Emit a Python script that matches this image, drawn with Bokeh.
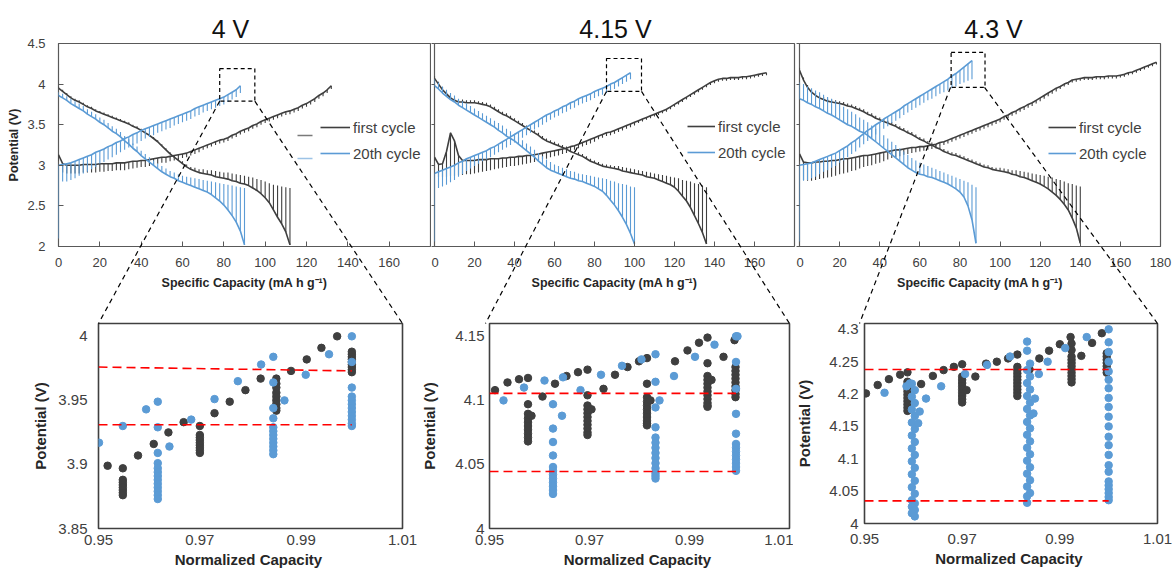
from bokeh.plotting import figure
from bokeh.layouts import row, column
from bokeh.models import (FixedTicker, CustomJSTickFormatter, BoxAnnotation, Arrow,
                          Label, Legend, LegendItem, GridBox)
from bokeh.embed import file_html
from bokeh.resources import INLINE

# ---------------------------------------------------------------- data
# capacity of each GITT step (mA h g-1)
Q = [0, 2, 4, 6, 8, 10, 12, 14, 16, 18, 20, 22, 24, 26, 28, 30, 32, 34, 36, 38,
     40, 42, 44, 46, 48, 50, 52, 54, 56, 58, 60, 62, 64, 66, 68, 70, 72, 74, 76, 78,
     80, 82, 84, 86, 88, 90, 92, 94, 96, 98, 100, 102, 104, 106, 108, 110, 112, 114,
     116, 118, 120, 122, 124, 126, 128, 130, 132, 134, 136, 138, 140, 142, 144, 146,
     148, 150, 152, 154, 156, 158, 160, 162, 164, 166, 168, 170, 172, 174, 176, 178]

# ---- 4 V : working voltage (v) and relaxed end of each step (tip)
p1_first_dis = [3.95, 3.91, 3.87, 3.83, 3.80, 3.78, 3.75, 3.72, 3.70, 3.67,
                3.65, 3.63, 3.61, 3.59, 3.57, 3.55, 3.53, 3.51, 3.48, 3.46,
                3.43, 3.40, 3.37, 3.33, 3.29, 3.24, 3.19, 3.14, 3.10, 3.06,
                3.02, 2.98, 2.95, 2.93, 2.91, 2.90, 2.89, 2.88, 2.86, 2.85,
                2.84, 2.83, 2.81, 2.80, 2.78, 2.77, 2.75, 2.72, 2.69, 2.65,
                2.60, 2.54, 2.45, 2.36, 2.28, 2.18, 2.02]
p1_first_dis_tip = [3.97, 3.93, 3.89, 3.85, 3.82, 3.80, 3.77, 3.74, 3.72, 3.69,
                    3.67, 3.65, 3.63, 3.61, 3.59, 3.57, 3.55, 3.53, 3.50, 3.48,
                    3.45, 3.42, 3.39, 3.35, 3.31, 3.26, 3.21, 3.16, 3.12, 3.09,
                    3.05, 3.01, 2.98, 2.97, 2.95, 2.95, 2.94, 2.94, 2.93, 2.92,
                    2.91, 2.91, 2.90, 2.89, 2.88, 2.87, 2.86, 2.85, 2.83, 2.82,
                    2.80, 2.78, 2.76, 2.75, 2.74, 2.73, 2.72]
p1_first_ch = [3.13, 3.02, 3.00, 3.00, 3.00, 3.00, 3.01, 3.01, 3.01, 3.01,
               3.02, 3.02, 3.02, 3.02, 3.03, 3.03, 3.03, 3.04, 3.05, 3.05,
               3.06, 3.06, 3.07, 3.08, 3.09, 3.10, 3.10, 3.11, 3.12, 3.13,
               3.14, 3.15, 3.17, 3.19, 3.21, 3.23, 3.25, 3.27, 3.29, 3.31,
               3.32, 3.34, 3.37, 3.39, 3.42, 3.44, 3.46, 3.49, 3.51, 3.54,
               3.56, 3.58, 3.60, 3.62, 3.64, 3.66, 3.67, 3.69, 3.71, 3.74,
               3.76, 3.79, 3.82, 3.86, 3.89, 3.93, 3.98]
p1_first_ch_tip = [3.05, 2.91, 2.90, 2.90, 2.90, 2.90, 2.91, 2.91, 2.91, 2.91,
                   2.92, 2.92, 2.93, 2.93, 2.94, 2.94, 2.94, 2.95, 2.96, 2.97,
                   2.98, 2.98, 2.99, 3.00, 3.02, 3.03, 3.03, 3.05, 3.06, 3.07,
                   3.09, 3.10, 3.12, 3.14, 3.16, 3.19, 3.21, 3.23, 3.25, 3.27,
                   3.28, 3.30, 3.33, 3.35, 3.38, 3.40, 3.42, 3.45, 3.47, 3.50,
                   3.52, 3.54, 3.56, 3.58, 3.60, 3.62, 3.63, 3.65, 3.67, 3.70,
                   3.72, 3.75, 3.78, 3.82, 3.85, 3.89, 3.94]
p1_20th_dis = [3.86, 3.83, 3.80, 3.76, 3.73, 3.70, 3.67, 3.63, 3.60, 3.57,
               3.53, 3.50, 3.46, 3.42, 3.39, 3.35, 3.30, 3.26, 3.21, 3.17,
               3.12, 3.08, 3.04, 3.00, 2.96, 2.92, 2.89, 2.86, 2.84, 2.81,
               2.79, 2.77, 2.75, 2.73, 2.71, 2.69, 2.67, 2.64, 2.60, 2.56,
               2.51, 2.45, 2.38, 2.30, 2.19, 2.02]
p1_20th_dis_tip = [3.90, 3.88, 3.85, 3.82, 3.79, 3.76, 3.73, 3.69, 3.66, 3.63,
                   3.59, 3.56, 3.52, 3.48, 3.45, 3.41, 3.36, 3.32, 3.27, 3.23,
                   3.18, 3.14, 3.10, 3.06, 3.02, 2.99, 2.96, 2.93, 2.91, 2.89,
                   2.87, 2.86, 2.85, 2.84, 2.83, 2.82, 2.81, 2.80, 2.79, 2.78,
                   2.77, 2.76, 2.75, 2.74, 2.73, 2.72]
p1_20th_ch = [3.00, 3.01, 3.02, 3.03, 3.05, 3.07, 3.09, 3.11, 3.13, 3.16,
              3.18, 3.20, 3.23, 3.25, 3.28, 3.30, 3.33, 3.35, 3.38, 3.40,
              3.43, 3.45, 3.47, 3.49, 3.51, 3.53, 3.55, 3.57, 3.59, 3.61,
              3.63, 3.65, 3.67, 3.70, 3.72, 3.74, 3.76, 3.78, 3.80, 3.82,
              3.84, 3.87, 3.90, 3.93, 3.98]
p1_20th_ch_tip = [2.10, 2.80, 2.80, 2.82, 2.84, 2.87, 2.90, 2.92, 2.95, 2.98,
                  3.02, 3.04, 3.07, 3.10, 3.13, 3.16, 3.19, 3.22, 3.25, 3.27,
                  3.30, 3.33, 3.35, 3.37, 3.40, 3.42, 3.44, 3.46, 3.49, 3.51,
                  3.53, 3.55, 3.57, 3.60, 3.62, 3.65, 3.67, 3.69, 3.71, 3.73,
                  3.75, 3.78, 3.81, 3.84, 3.89]

# ---- 4.15 V
p2_first_dis = [4.07, 4.00, 3.93, 3.88, 3.83, 3.80, 3.78, 3.78, 3.77, 3.77,
                3.77, 3.76, 3.75, 3.74, 3.72, 3.69, 3.66, 3.63, 3.61, 3.58,
                3.55, 3.52, 3.49, 3.46, 3.43, 3.40, 3.37, 3.33, 3.30, 3.28,
                3.26, 3.24, 3.22, 3.20, 3.17, 3.15, 3.13, 3.11, 3.08, 3.05,
                3.03, 3.01, 2.99, 2.98, 2.97, 2.96, 2.95, 2.93, 2.92, 2.91,
                2.90, 2.89, 2.88, 2.86, 2.85, 2.84, 2.82, 2.80, 2.78, 2.76,
                2.73, 2.68, 2.62, 2.56, 2.48, 2.38, 2.28, 2.17, 2.03]
p2_first_dis_tip = [4.10, 4.03, 3.96, 3.91, 3.86, 3.83, 3.81, 3.81, 3.80, 3.80,
                    3.80, 3.79, 3.78, 3.77, 3.75, 3.72, 3.69, 3.66, 3.64, 3.61,
                    3.58, 3.55, 3.52, 3.49, 3.46, 3.43, 3.40, 3.36, 3.33, 3.31,
                    3.29, 3.27, 3.25, 3.23, 3.20, 3.18, 3.16, 3.14, 3.11, 3.08,
                    3.06, 3.04, 3.02, 3.01, 3.00, 2.99, 2.99, 2.98, 2.97, 2.96,
                    2.95, 2.94, 2.93, 2.92, 2.91, 2.90, 2.89, 2.88, 2.87, 2.86,
                    2.85, 2.84, 2.82, 2.81, 2.80, 2.78, 2.77, 2.75, 2.73]
p2_first_ch = [3.10, 3.01, 3.02, 3.17, 3.40, 3.30, 3.12, 3.06, 3.06, 3.06,
               3.06, 3.07, 3.07, 3.07, 3.08, 3.08, 3.08, 3.09, 3.09, 3.10,
               3.10, 3.11, 3.11, 3.12, 3.12, 3.13, 3.14, 3.15, 3.16, 3.17,
               3.18, 3.19, 3.20, 3.21, 3.23, 3.24, 3.26, 3.28, 3.30, 3.32,
               3.34, 3.36, 3.38, 3.40, 3.41, 3.43, 3.45, 3.47, 3.49, 3.51,
               3.53, 3.55, 3.57, 3.59, 3.61, 3.63, 3.65, 3.67, 3.69, 3.72,
               3.75, 3.78, 3.81, 3.84, 3.87, 3.90, 3.93, 3.96, 3.99, 4.02,
               4.04, 4.06, 4.07, 4.07, 4.08, 4.08, 4.08, 4.09, 4.09, 4.10,
               4.11, 4.12, 4.13, 4.14]
p2_first_ch_tip = [3.05, 2.86, 2.86, 2.86, 2.87, 2.87, 2.88, 2.88, 2.89, 2.89,
                   2.90, 2.91, 2.92, 2.93, 2.94, 2.95, 2.96, 2.97, 2.98, 2.99,
                   2.99, 3.00, 3.01, 3.02, 3.03, 3.04, 3.06, 3.07, 3.08, 3.10,
                   3.11, 3.12, 3.14, 3.15, 3.17, 3.19, 3.21, 3.23, 3.25, 3.27,
                   3.29, 3.32, 3.34, 3.36, 3.37, 3.39, 3.41, 3.43, 3.45, 3.47,
                   3.49, 3.52, 3.54, 3.56, 3.58, 3.60, 3.62, 3.64, 3.66, 3.69,
                   3.72, 3.75, 3.78, 3.81, 3.84, 3.87, 3.90, 3.93, 3.96, 3.99,
                   4.01, 4.03, 4.04, 4.04, 4.05, 4.05, 4.05, 4.06, 4.06, 4.07,
                   4.08, 4.09, 4.10, 4.11]
p2_20th_ch = [2.90, 2.92, 2.94, 2.96, 2.98, 3.00, 3.03, 3.05, 3.08, 3.10,
              3.12, 3.14, 3.16, 3.18, 3.21, 3.23, 3.26, 3.29, 3.32, 3.35,
              3.38, 3.41, 3.44, 3.47, 3.50, 3.53, 3.56, 3.59, 3.62, 3.64,
              3.67, 3.69, 3.72, 3.74, 3.77, 3.79, 3.82, 3.84, 3.86, 3.88,
              3.91, 3.93, 3.95, 3.97, 4.00, 4.02, 4.05, 4.08, 4.11, 4.14]
p2_20th_ch_tip = [2.05, 2.72, 2.74, 2.76, 2.79, 2.82, 2.86, 2.89, 2.93, 2.96,
                  2.99, 3.02, 3.05, 3.07, 3.10, 3.13, 3.16, 3.19, 3.22, 3.25,
                  3.28, 3.31, 3.34, 3.37, 3.40, 3.44, 3.47, 3.50, 3.53, 3.56,
                  3.59, 3.61, 3.64, 3.66, 3.69, 3.71, 3.74, 3.76, 3.78, 3.80,
                  3.83, 3.85, 3.87, 3.89, 3.92, 3.94, 3.97, 4.00, 4.03, 4.06]
p2_20th_dis = [3.98, 3.94, 3.89, 3.85, 3.81, 3.78, 3.74, 3.71, 3.68, 3.65,
               3.62, 3.59, 3.56, 3.53, 3.50, 3.47, 3.43, 3.40, 3.36, 3.33,
               3.30, 3.26, 3.22, 3.18, 3.14, 3.10, 3.05, 3.01, 2.97, 2.94,
               2.92, 2.90, 2.88, 2.86, 2.84, 2.83, 2.81, 2.80, 2.78, 2.76,
               2.74, 2.71, 2.68, 2.63, 2.57, 2.51, 2.44, 2.36, 2.27, 2.16, 2.03]
p2_20th_dis_tip = [4.06, 4.02, 3.97, 3.93, 3.89, 3.86, 3.82, 3.79, 3.76, 3.73,
                   3.70, 3.67, 3.64, 3.61, 3.58, 3.55, 3.52, 3.49, 3.45, 3.42,
                   3.39, 3.35, 3.31, 3.27, 3.23, 3.19, 3.15, 3.11, 3.07, 3.04,
                   3.01, 2.99, 2.97, 2.95, 2.93, 2.92, 2.90, 2.89, 2.88, 2.87,
                   2.86, 2.85, 2.84, 2.83, 2.81, 2.80, 2.78, 2.77, 2.76, 2.74, 2.73]

# ---- 4.3 V
p3_first_dis = [4.17, 4.05, 3.96, 3.90, 3.86, 3.83, 3.81, 3.79, 3.78, 3.77,
                3.76, 3.75, 3.73, 3.72, 3.70, 3.68, 3.66, 3.63, 3.61, 3.58,
                3.56, 3.54, 3.52, 3.50, 3.48, 3.45, 3.43, 3.40, 3.38, 3.35,
                3.32, 3.30, 3.27, 3.25, 3.22, 3.20, 3.17, 3.15, 3.13, 3.12,
                3.10, 3.08, 3.06, 3.04, 3.02, 3.00, 2.98, 2.97, 2.95, 2.94,
                2.93, 2.92, 2.91, 2.89, 2.88, 2.86, 2.85, 2.83, 2.81, 2.79,
                2.77, 2.74, 2.71, 2.67, 2.63, 2.58, 2.52, 2.45, 2.35, 2.23, 2.04]
p3_first_dis_tip = [4.20, 4.08, 3.99, 3.93, 3.89, 3.86, 3.84, 3.82, 3.81, 3.80,
                    3.79, 3.78, 3.76, 3.75, 3.73, 3.71, 3.69, 3.66, 3.64, 3.61,
                    3.59, 3.57, 3.55, 3.53, 3.51, 3.48, 3.46, 3.43, 3.41, 3.38,
                    3.35, 3.33, 3.30, 3.28, 3.25, 3.23, 3.20, 3.18, 3.16, 3.15,
                    3.13, 3.11, 3.09, 3.07, 3.05, 3.03, 3.01, 3.00, 2.98, 2.97,
                    2.97, 2.96, 2.95, 2.94, 2.94, 2.93, 2.92, 2.91, 2.90, 2.89,
                    2.88, 2.87, 2.86, 2.85, 2.83, 2.82, 2.80, 2.78, 2.77, 2.75, 2.74]
p3_first_ch = [3.14, 3.04, 3.03, 3.03, 3.04, 3.04, 3.05, 3.05, 3.06, 3.06,
               3.07, 3.08, 3.08, 3.09, 3.10, 3.11, 3.12, 3.12, 3.13, 3.14,
               3.15, 3.16, 3.17, 3.18, 3.19, 3.19, 3.20, 3.21, 3.22, 3.22,
               3.23, 3.23, 3.24, 3.25, 3.26, 3.28, 3.29, 3.31, 3.33, 3.35,
               3.37, 3.39, 3.41, 3.43, 3.45, 3.47, 3.49, 3.51, 3.53, 3.55,
               3.57, 3.60, 3.62, 3.65, 3.67, 3.70, 3.72, 3.75, 3.77, 3.80,
               3.83, 3.86, 3.89, 3.92, 3.95, 3.97, 4.00, 4.02, 4.05, 4.06,
               4.07, 4.08, 4.08, 4.08, 4.09, 4.09, 4.09, 4.10, 4.10, 4.10,
               4.11, 4.12, 4.14, 4.15, 4.17, 4.19, 4.21, 4.23, 4.25, 4.27]
p3_first_ch_tip = [3.05, 2.82, 2.81, 2.81, 2.82, 2.83, 2.84, 2.85, 2.86, 2.87,
                   2.89, 2.90, 2.91, 2.93, 2.94, 2.96, 2.98, 2.99, 3.00, 3.02,
                   3.03, 3.05, 3.07, 3.09, 3.10, 3.11, 3.13, 3.14, 3.15, 3.16,
                   3.17, 3.18, 3.19, 3.20, 3.21, 3.23, 3.25, 3.27, 3.29, 3.31,
                   3.33, 3.35, 3.37, 3.39, 3.41, 3.43, 3.45, 3.47, 3.49, 3.51,
                   3.53, 3.56, 3.58, 3.61, 3.63, 3.66, 3.68, 3.71, 3.73, 3.76,
                   3.79, 3.82, 3.85, 3.88, 3.91, 3.94, 3.97, 3.99, 4.02, 4.03,
                   4.04, 4.05, 4.05, 4.05, 4.06, 4.06, 4.06, 4.07, 4.07, 4.07,
                   4.08, 4.09, 4.11, 4.12, 4.14, 4.16, 4.18, 4.20, 4.22, 4.24]
p3_20th_ch = [3.00, 3.01, 3.02, 3.03, 3.05, 3.07, 3.09, 3.11, 3.13, 3.15,
              3.18, 3.21, 3.24, 3.28, 3.31, 3.35, 3.39, 3.43, 3.46, 3.50,
              3.53, 3.57, 3.60, 3.63, 3.66, 3.69, 3.73, 3.76, 3.79, 3.82,
              3.85, 3.88, 3.91, 3.94, 3.97, 4.00, 4.03, 4.06, 4.10, 4.13,
              4.17, 4.21, 4.25, 4.29]
p3_20th_ch_tip = [2.05, 2.81, 2.82, 2.84, 2.86, 2.89, 2.92, 2.94, 2.97, 2.99,
                  3.03, 3.06, 3.10, 3.14, 3.17, 3.22, 3.26, 3.30, 3.34, 3.38,
                  3.41, 3.45, 3.48, 3.52, 3.55, 3.58, 3.62, 3.65, 3.68, 3.71,
                  3.74, 3.77, 3.80, 3.82, 3.85, 3.88, 3.90, 3.92, 3.95, 3.97,
                  4.00, 4.02, 4.04, 4.06]
p3_20th_dis = [3.82, 3.80, 3.77, 3.75, 3.72, 3.70, 3.67, 3.64, 3.62, 3.59,
               3.56, 3.53, 3.50, 3.48, 3.45, 3.42, 3.40, 3.37, 3.33, 3.29,
               3.25, 3.21, 3.17, 3.13, 3.09, 3.05, 3.01, 2.97, 2.94, 2.91,
               2.89, 2.88, 2.86, 2.85, 2.83, 2.81, 2.79, 2.77, 2.74, 2.71,
               2.67, 2.61, 2.50, 2.33, 2.04]
p3_20th_dis_tip = [4.02, 4.00, 3.97, 3.95, 3.92, 3.90, 3.87, 3.84, 3.82, 3.79,
                   3.76, 3.72, 3.69, 3.66, 3.63, 3.59, 3.56, 3.53, 3.49, 3.45,
                   3.41, 3.37, 3.33, 3.29, 3.25, 3.21, 3.17, 3.13, 3.09, 3.06,
                   3.03, 3.01, 2.99, 2.97, 2.95, 2.93, 2.91, 2.89, 2.87, 2.85,
                   2.83, 2.81, 2.79, 2.76, 2.73]

# ---- zoomed end of charge (normalized capacity vs potential)
z4_first_x = [0.9518, 0.9548, 0.9548, 0.9548, 0.9548, 0.9548, 0.9548, 0.9548, 0.9548,
              0.9578, 0.9609, 0.9638, 0.9668, 0.9700, 0.9700, 0.9700, 0.9700, 0.9700,
              0.9700, 0.9700, 0.9700, 0.9700, 0.9729, 0.9759, 0.9790, 0.9820, 0.9851,
              0.9851, 0.9851, 0.9851, 0.9851, 0.9851, 0.9851, 0.9851, 0.9851, 0.9880,
              0.9911, 0.9940, 0.9971, 1.0000, 1.0000, 1.0000, 1.0000, 1.0000, 1.0000,
              1.0000, 1.0000, 1.0000]
z4_first_y = [3.899, 3.897, 3.888, 3.886, 3.884, 3.882, 3.880, 3.878, 3.876,
              3.907, 3.916, 3.925, 3.933, 3.930, 3.923, 3.921, 3.919, 3.917,
              3.915, 3.913, 3.911, 3.909, 3.940, 3.949, 3.958, 3.967, 3.967,
              3.963, 3.960, 3.956, 3.953, 3.950, 3.947, 3.944, 3.942, 3.973,
              3.982, 3.991, 4.000, 3.988, 3.986, 3.984, 3.982, 3.980, 3.978,
              3.976, 3.974, 3.972]
z4_20th_x = [0.9501, 0.9548, 0.9594, 0.9617, 0.9617, 0.9617, 0.9617, 0.9617, 0.9617,
             0.9617, 0.9617, 0.9617, 0.9617, 0.9617, 0.9617, 0.9617, 0.9640, 0.9683,
             0.9729, 0.9775, 0.9821, 0.9845, 0.9845, 0.9845, 0.9845, 0.9845, 0.9845,
             0.9845, 0.9845, 0.9845, 0.9845, 0.9845, 0.9845, 0.9867, 0.9909, 0.9955,
             1.0000, 1.0000, 1.0000, 1.0000, 1.0000, 1.0000, 1.0000, 1.0000, 1.0000,
             1.0000, 1.0000, 1.0000]
z4_20th_y = [3.917, 3.930, 3.943, 3.949, 3.929, 3.909, 3.901, 3.897, 3.894,
             3.891, 3.888, 3.885, 3.882, 3.879, 3.876, 3.873, 3.914, 3.935,
             3.951, 3.965, 3.978, 3.984, 3.964, 3.944, 3.936, 3.929, 3.926,
             3.923, 3.920, 3.917, 3.914, 3.911, 3.908, 3.950, 3.970, 3.986,
             4.000, 3.980, 3.960, 3.953, 3.950, 3.947, 3.944, 3.941, 3.938,
             3.935, 3.932, 3.930]
z4_red_x = [0.95, 1.0]
z4_red_hi = [3.976, 3.973]
z4_red_lo = [3.931, 3.931]

z5_first_x = [0.9511, 0.9536, 0.9559, 0.9577, 0.9577, 0.9577, 0.9577, 0.9577, 0.9577,
              0.9577, 0.9577, 0.9577, 0.9577, 0.9584, 0.9606, 0.9631, 0.9654, 0.9677,
              0.9696, 0.9696, 0.9696, 0.9696, 0.9696, 0.9696, 0.9696, 0.9696, 0.9696,
              0.9696, 0.9696, 0.9704, 0.9728, 0.9751, 0.9776, 0.9799, 0.9815, 0.9815,
              0.9815, 0.9815, 0.9815, 0.9815, 0.9815, 0.9815, 0.9815, 0.9815, 0.9815,
              0.9822, 0.9871, 0.9896, 0.9919, 0.9936, 0.9936, 0.9936, 0.9936, 0.9936,
              0.9936, 0.9936, 0.9936, 0.9936, 0.9936, 0.9936, 0.9936, 0.9944, 0.9968,
              0.9990, 0.9992, 0.9992, 0.9992, 0.9992, 0.9992, 0.9992, 0.9992, 0.9992,
              0.9992]
z5_first_y = [4.108, 4.114, 4.1165, 4.1175, 4.097, 4.0895, 4.086, 4.083, 4.080,
              4.077, 4.074, 4.071, 4.068, 4.088, 4.103, 4.113, 4.119, 4.122,
              4.124, 4.104, 4.096, 4.093, 4.090, 4.087, 4.084, 4.081, 4.078,
              4.075, 4.073, 4.093, 4.109, 4.120, 4.126, 4.1305, 4.133, 4.113,
              4.1025, 4.099, 4.096, 4.093, 4.090, 4.087, 4.084, 4.082, 4.0805,
              4.100, 4.1305, 4.139, 4.145, 4.149, 4.129, 4.119, 4.116, 4.113,
              4.110, 4.107, 4.104, 4.101, 4.098, 4.096, 4.095, 4.116, 4.134,
              4.147, 4.126, 4.123, 4.120, 4.117, 4.114, 4.111, 4.108, 4.105,
              4.1025]
z5_20th_x = [0.9528, 0.9569, 0.9610, 0.9627, 0.9627, 0.9627, 0.9627, 0.9627, 0.9627,
             0.9627, 0.9627, 0.9627, 0.9627, 0.9627, 0.9627, 0.9645, 0.9647, 0.9682,
             0.9723, 0.9765, 0.9804, 0.9832, 0.9832, 0.9832, 0.9832, 0.9832, 0.9832,
             0.9832, 0.9832, 0.9832, 0.9832, 0.9832, 0.9832, 0.9832, 0.9832, 0.9840,
             0.9869, 0.9911, 0.9950, 0.9993, 0.9996, 0.9993, 0.9993, 0.9993, 0.9993,
             0.9993, 0.9993, 0.9993, 0.9993, 0.9993, 0.9993, 0.9993, 0.9993]
z5_20th_y = [4.100, 4.110, 4.1155, 4.097, 4.078, 4.0675, 4.057, 4.048, 4.045,
             4.042, 4.039, 4.036, 4.033, 4.030, 4.027, 4.088, 4.118, 4.108,
             4.120, 4.127, 4.132, 4.136, 4.1145, 4.0945, 4.079, 4.071, 4.067,
             4.063, 4.059, 4.055, 4.051, 4.047, 4.043, 4.041, 4.039, 4.100,
             4.119, 4.134, 4.1435, 4.150, 4.150, 4.130, 4.109, 4.0895, 4.074,
             4.066, 4.063, 4.060, 4.057, 4.054, 4.051, 4.048, 4.045]
z5_red_x = [0.95, 0.9993]
z5_red_hi = [4.1055, 4.1055]
z5_red_lo = [4.0445, 4.0445]

z6_first_x = [0.9503, 0.9527, 0.9550, 0.9573, 0.9588, 0.9588, 0.9588, 0.9588, 0.9588,
              0.9588, 0.9588, 0.9588, 0.9588, 0.9588, 0.9588, 0.9616, 0.9640, 0.9662,
              0.9683, 0.9700, 0.9700, 0.9700, 0.9700, 0.9700, 0.9700, 0.9700, 0.9700,
              0.9700, 0.9700, 0.9709, 0.9727, 0.9749, 0.9771, 0.9794, 0.9813, 0.9813,
              0.9813, 0.9813, 0.9813, 0.9813, 0.9813, 0.9813, 0.9813, 0.9813, 0.9813,
              0.9838, 0.9858, 0.9878, 0.9900, 0.9922, 0.9924, 0.9924, 0.9924, 0.9924,
              0.9924, 0.9924, 0.9924, 0.9924, 0.9924, 0.9924, 0.9924, 0.9944, 0.9966,
              0.9986, 0.9996, 0.9996, 0.9996, 0.9996, 0.9996, 0.9996, 0.9996]
z6_first_y = [4.201, 4.214, 4.223, 4.230, 4.2335, 4.219, 4.214, 4.209, 4.204,
              4.199, 4.194, 4.189, 4.184, 4.179, 4.174, 4.2155, 4.228, 4.237,
              4.242, 4.246, 4.227, 4.222, 4.217, 4.212, 4.207, 4.202, 4.197,
              4.192, 4.187, 4.206, 4.227, 4.247, 4.250, 4.255, 4.261, 4.242,
              4.237, 4.232, 4.227, 4.222, 4.217, 4.212, 4.207, 4.202, 4.197,
              4.238, 4.255, 4.267, 4.277, 4.288, 4.278, 4.268, 4.258, 4.253,
              4.248, 4.243, 4.238, 4.233, 4.228, 4.223, 4.218, 4.259, 4.279,
              4.294, 4.263, 4.258, 4.253, 4.248, 4.243, 4.238, 4.233]
z6_20th_x = [0.9541, 0.9586, 0.9593, 0.9597, 0.9603, 0.9597, 0.9603, 0.9597, 0.9603,
             0.9597, 0.9603, 0.9597, 0.9603, 0.9597, 0.9603, 0.9597, 0.9603, 0.9597,
             0.9603, 0.9597, 0.9603, 0.9597, 0.9603, 0.9597, 0.9603, 0.9597, 0.9603,
             0.9610, 0.9613, 0.9626, 0.9657, 0.9706, 0.9751, 0.9798, 0.9833, 0.9833,
             0.9839, 0.9833, 0.9839, 0.9833, 0.9839, 0.9833, 0.9839, 0.9833, 0.9839,
             0.9833, 0.9839, 0.9833, 0.9839, 0.9833, 0.9839, 0.9833, 0.9839, 0.9833,
             0.9839, 0.9833, 0.9839, 0.9833, 0.9833, 0.9849, 0.9846, 0.9857, 0.9875,
             0.9911, 0.9955, 1.0000, 1.0000, 1.0000, 1.0000, 1.0000, 1.0000, 1.0000,
             1.0000, 1.0000, 1.0000, 1.0000, 1.0000, 1.0000, 1.0000, 1.0000, 1.0000,
             1.0000, 1.0000, 1.0000, 1.0000, 1.0000, 1.0000]
z6_20th_y = [4.202, 4.212, 4.2165, 4.216, 4.206, 4.196, 4.186, 4.176, 4.166,
             4.156, 4.146, 4.136, 4.126, 4.116, 4.106, 4.096, 4.086, 4.076,
             4.066, 4.056, 4.046, 4.036, 4.031, 4.026, 4.021, 4.016, 4.011,
             4.155, 4.173, 4.193, 4.212, 4.231, 4.245, 4.258, 4.281, 4.267,
             4.247, 4.237, 4.227, 4.217, 4.207, 4.197, 4.187, 4.177, 4.167,
             4.157, 4.147, 4.137, 4.127, 4.117, 4.107, 4.097, 4.087, 4.077,
             4.067, 4.057, 4.047, 4.042, 4.032, 4.193, 4.170, 4.231, 4.250,
             4.271, 4.288, 4.300, 4.280, 4.265, 4.250, 4.235, 4.222, 4.209,
             4.194, 4.180, 4.165, 4.150, 4.134, 4.121, 4.106, 4.090, 4.080,
             4.065, 4.059, 4.053, 4.047, 4.041, 4.036]
z6_red_x = [0.95, 1.0]
z6_red_hi = [4.238, 4.238]
z6_red_lo = [4.035, 4.035]

# zoom windows drawn on the overview panels (capacity, potential)
box_4V = [78, 95, 3.79, 4.19]
box_415V = [86, 103.5, 3.91, 4.315]
box_43V = [75.6, 92.5, 3.96, 4.39]

titles = ["4 V", "4.15 V", "4.3 V"]
top_xticks = [0, 20, 40, 60, 80, 100, 120, 140, 160]
top_xticks_last = [0, 20, 40, 60, 80, 100, 120, 140, 160, 180]
top_yticks = [2, 2.5, 3, 3.5, 4, 4.5]
bot_xticks = [0.95, 0.97, 0.99, 1.01]
bot_yticks_4V = [3.85, 3.9, 3.95, 4.0]
bot_yticks_415V = [4.0, 4.05, 4.1, 4.15]
bot_yticks_43V = [4.0, 4.05, 4.1, 4.15, 4.2, 4.25, 4.3]

# ---------------------------------------------------------------- style / layout
FONT = "Liberation Sans"
DARK = "#3f3f3f"
BLUE = "#5b9bd5"
RED = "#ff0000"
AXC = "#595959"
TXT = "#404040"
LAB = "#262626"
NUMFMT = CustomJSTickFormatter(code="return Number(tick.toFixed(3)).toString();")
NOFMT = CustomJSTickFormatter(code="return '';")

W, H = 1173, 577
TOP_Y, TOP_H, TOP_BT, TOP_BB = 0, 300, 43, 54
BOT_Y, BOT_H = 300, 277
TOPS = [dict(cx=0, w=431, bl=58, br=1), dict(cx=431, w=365, bl=3, br=2),
        dict(cx=796, w=377, bl=2, br=13)]
BOTS = [dict(cx=0, w=418, bl=98, br=16, bt=23, bb=49),
        dict(cx=418, w=375, bl=67, br=4, bt=23, bb=49),
        dict(cx=793, w=380, bl=66, br=16, bt=23, bb=54)]


def frame_of(cx, cy, w, h, bl, br, bt, bb):
    return (cx + bl, cx + w - br, cy + bt, cy + h - bb)


def to_page(fr, xr, yr, x, y):
    fx0, fx1, fy0, fy1 = fr
    return (fx0 + (x - xr[0]) / (xr[1] - xr[0]) * (fx1 - fx0),
            fy0 + (yr[1] - y) / (yr[1] - yr[0]) * (fy1 - fy0))


def to_data(fr, xr, yr, px, py):
    fx0, fx1, fy0, fy1 = fr
    return (xr[0] + (px - fx0) / (fx1 - fx0) * (xr[1] - xr[0]),
            yr[1] - (py - fy0) / (fy1 - fy0) * (yr[1] - yr[0]))


def no_frame_align(p):
    try:
        p.frame_align = False
    except Exception:
        pass


TOP_XR, TOP_YR = (0, 180), (2, 4.5)
BOT_XR = (0.95, 1.01)
BOT_YRS = [(3.85, 4.01), (4.0, 4.16), (4.0, 4.309)]

top_frames = [frame_of(t["cx"], TOP_Y, t["w"], TOP_H, t["bl"], t["br"], TOP_BT, TOP_BB) for t in TOPS]
bot_frames = [frame_of(b["cx"], BOT_Y, b["w"], BOT_H, b["bl"], b["br"], b["bt"], b["bb"]) for b in BOTS]

curves = [
    [(p1_first_dis, p1_first_dis_tip), (p1_first_ch, p1_first_ch_tip),
     (p1_20th_dis, p1_20th_dis_tip), (p1_20th_ch, p1_20th_ch_tip)],
    [(p2_first_dis, p2_first_dis_tip), (p2_first_ch, p2_first_ch_tip),
     (p2_20th_dis, p2_20th_dis_tip), (p2_20th_ch, p2_20th_ch_tip)],
    [(p3_first_dis, p3_first_dis_tip), (p3_first_ch, p3_first_ch_tip),
     (p3_20th_dis, p3_20th_dis_tip), (p3_20th_ch, p3_20th_ch_tip)],
]
boxes = [box_4V, box_415V, box_43V]
title_px = [(230, 28), (615, 28), (993, 28)]
legend_px = [(320, 163, 30), (687, 162, 28), (1047, 163, 28)]

top_figs = []
for i in range(3):
    t = TOPS[i]
    fr = top_frames[i]
    p = figure(width=t["w"], height=TOP_H, x_range=TOP_XR, y_range=TOP_YR,
               output_backend="svg", toolbar_location=None,
               min_border_left=t["bl"], min_border_right=t["br"],
               min_border_top=TOP_BT, min_border_bottom=TOP_BB)
    no_frame_align(p)
    p.background_fill_color = "white"
    p.border_fill_color = "white"
    p.outline_line_color = AXC
    p.outline_line_width = 1.2
    p.xgrid.visible = False
    p.ygrid.visible = False
    xa = p.xaxis[0]
    xa.ticker = FixedTicker(ticks=top_xticks_last if i == 2 else top_xticks)
    xa.formatter = NUMFMT
    xa.axis_line_color = None
    xa.major_tick_in = 5
    xa.major_tick_out = 0
    xa.major_tick_line_color = AXC
    xa.minor_tick_line_color = None
    xa.major_label_standoff = 11
    xa.major_label_text_font = FONT
    xa.major_label_text_font_size = "13px"
    xa.major_label_text_color = TXT
    xa.axis_label = "Specific Capacity (mA h g\u207b\u00b9)"
    xa.axis_label_standoff = 6
    xa.axis_label_text_font = FONT
    xa.axis_label_text_font_size = "12.5px"
    xa.axis_label_text_font_style = "bold"
    xa.axis_label_text_color = LAB
    ya = p.yaxis[0]
    ya.ticker = FixedTicker(ticks=top_yticks)
    ya.axis_line_color = None
    ya.minor_tick_line_color = None
    ya.major_tick_line_color = AXC
    if i == 0:
        ya.formatter = NUMFMT
        ya.major_tick_in = 5
        ya.major_tick_out = 0
        ya.major_label_standoff = 13
        ya.major_label_text_font = FONT
        ya.major_label_text_font_size = "13px"
        ya.major_label_text_color = TXT
        ya.axis_label = "Potential (V)"
        ya.axis_label_standoff = 3
        ya.axis_label_text_font = FONT
        ya.axis_label_text_font_size = "12.5px"
        ya.axis_label_text_font_style = "bold"
        ya.axis_label_text_color = LAB
    else:
        ya.formatter = NOFMT
        ya.major_tick_in = 0
        ya.major_tick_out = 3
        ya.major_label_standoff = 0
        ya.major_label_text_font_size = "0px"

    rends = []
    for k, (v, tip) in enumerate(curves[i]):
        col = DARK if k < 2 else BLUE
        q = Q[:len(v)]
        p.segment(x0=q, y0=v, x1=q, y1=tip, line_color=col, line_width=1.1)
        rends.append(p.line(q, v, line_color=col, line_width=1.6))

    bx = boxes[i]
    p.add_layout(BoxAnnotation(left=bx[0], right=bx[1], bottom=bx[2], top=bx[3],
                               fill_alpha=0, line_color="black", line_alpha=1.0,
                               line_width=1.2, line_dash="4 3"))

    lx, lbot, gw = legend_px[i]
    leg = Legend(items=[LegendItem(label="first cycle", renderers=[rends[0]]),
                        LegendItem(label="20th cycle", renderers=[rends[2]])],
                 location=(lx - fr[0], fr[3] - lbot), orientation="vertical",
                 background_fill_alpha=0, border_line_alpha=0, padding=0, margin=0,
                 spacing=6, glyph_width=gw, glyph_height=20, label_height=20,
                 label_standoff=3, label_text_font=FONT, label_text_font_size="15px",
                 label_text_color=TXT)
    p.add_layout(leg)
    if i == 0:
        for (yy, cc) in [(135, "#7a7a7a"), (158, "#9dc3e6")]:
            ax0, ay0 = to_data(fr, TOP_XR, TOP_YR, 297, yy)
            ax1, ay1 = to_data(fr, TOP_XR, TOP_YR, 312, yy)
            p.add_layout(Arrow(end=None, x_start=ax0, y_start=ay0, x_end=ax1,
                               y_end=ay1, line_color=cc, line_width=1.6))
    top_figs.append(p)

zdata = [(z4_first_x, z4_first_y, z4_20th_x, z4_20th_y, z4_red_x, z4_red_hi, z4_red_lo, bot_yticks_4V),
         (z5_first_x, z5_first_y, z5_20th_x, z5_20th_y, z5_red_x, z5_red_hi, z5_red_lo, bot_yticks_415V),
         (z6_first_x, z6_first_y, z6_20th_x, z6_20th_y, z6_red_x, z6_red_hi, z6_red_lo, bot_yticks_43V)]
ylab_std = [(11, 6), (5, 14), (6, 13)]
xlab_std = [(6, 3), (6, 3), (10, 3)]

bot_figs = []
for i in range(3):
    b = BOTS[i]
    yr = BOT_YRS[i]
    fx, fy, ux, uy, rx, rhi, rlo, yt = zdata[i]
    p = figure(width=b["w"], height=BOT_H, x_range=BOT_XR, y_range=yr,
               output_backend="svg", toolbar_location=None,
               min_border_left=b["bl"], min_border_right=b["br"],
               min_border_top=b["bt"], min_border_bottom=b["bb"])
    no_frame_align(p)
    p.background_fill_color = "white"
    p.border_fill_color = "white"
    p.outline_line_color = "#404040"
    p.outline_line_width = 1.6
    p.xgrid.visible = False
    p.ygrid.visible = False
    for ax, ticks, std, lab in [(p.xaxis[0], bot_xticks, xlab_std[i], "Normalized  Capacity"),
                                (p.yaxis[0], yt, ylab_std[i], "Potential (V)")]:
        ax.ticker = FixedTicker(ticks=ticks)
        ax.formatter = NUMFMT
        ax.axis_line_color = None
        ax.major_tick_line_color = None
        ax.minor_tick_line_color = None
        ax.major_tick_in = 0
        ax.major_tick_out = 0
        ax.major_label_standoff = std[0]
        ax.major_label_text_font = FONT
        ax.major_label_text_font_size = "15px"
        ax.major_label_text_color = TXT
        ax.axis_label = lab
        ax.axis_label_standoff = std[1]
        ax.axis_label_text_font = FONT
        ax.axis_label_text_font_size = "15px"
        ax.axis_label_text_font_style = "bold"
        ax.axis_label_text_color = LAB

    p.scatter(fx, fy, size=7.5, color=DARK)
    p.scatter(ux, uy, size=7.5, color=BLUE)
    p.line(rx, rhi, line_color=RED, line_width=1.6, line_dash="9 5")
    p.line(rx, rlo, line_color=RED, line_width=1.6, line_dash="9 5")
    bot_figs.append(p)

# transparent overlay (page pixel space) for the zoom connectors and panel titles
ov = figure(width=W, height=H, x_range=(0, W), y_range=(H, 0), output_backend="svg",
            toolbar_location=None, x_axis_location=None, y_axis_location=None,
            min_border_left=0, min_border_right=0, min_border_top=0, min_border_bottom=0)
ov.background_fill_alpha = 0
ov.border_fill_alpha = 0
ov.outline_line_color = None
ov.grid.visible = False
cx0, cy0, cx1, cy1 = [], [], [], []
for i in range(3):
    bx = boxes[i]
    blp = to_page(top_frames[i], TOP_XR, TOP_YR, bx[0], bx[2])
    brp = to_page(top_frames[i], TOP_XR, TOP_YR, bx[1], bx[2])
    bfr = bot_frames[i]
    cx0 += [blp[0], brp[0]]
    cy0 += [blp[1], brp[1]]
    cx1 += [bfr[0], bfr[1]]
    cy1 += [bfr[2], bfr[2]]
    ov.add_layout(Label(x=title_px[i][0], y=title_px[i][1], text=titles[i],
                        text_align="center", text_baseline="middle", text_font=FONT,
                        text_font_size="25px", text_color="#111111"))
ov.segment(x0=cx0, y0=cy0, x1=cx1, y1=cy1, line_color="black", line_width=1.2,
           line_dash="5 4")

main = column(row(*top_figs, spacing=0), row(*bot_figs, spacing=0), spacing=0)
layout = GridBox(children=[(main, 0, 0), (ov, 0, 0)])
open("out.html", "w").write(file_html(layout, INLINE))
